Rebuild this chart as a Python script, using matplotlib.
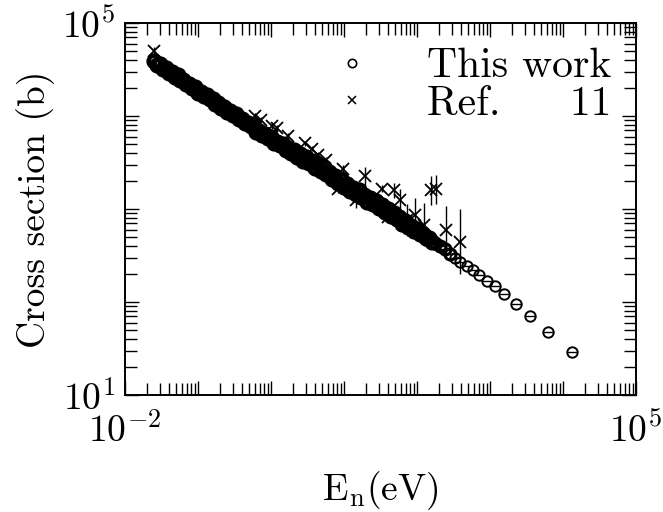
import numpy as np
from matplotlib import pyplot as plt
from matplotlib.ticker import LogLocator, NullFormatter

plt.rcParams['font.family'] = 'serif'
plt.rcParams['font.serif'] = ['cmr10']
plt.rcParams['mathtext.fontset'] = 'cm'
plt.rcParams['axes.formatter.use_mathtext'] = True

# "This work" : log10(E / eV), log10(sigma / b)
log_e_this = [-1.60, -1.56, -1.52, -1.48, -1.44, -1.40, -1.36, -1.32, -1.28, -1.24,
              -1.20, -1.16, -1.12, -1.08, -1.04, -1.00, -0.96, -0.92, -0.88, -0.84,
              -0.80, -0.76, -0.72, -0.68, -0.64, -0.60, -0.56, -0.52, -0.48, -0.44,
              -0.40, -0.36, -0.32, -0.28, -0.24, -0.20, -0.16, -0.12, -0.08, -0.04,
              0.00, 0.04, 0.08, 0.12, 0.16, 0.20, 0.24, 0.28, 0.32, 0.36,
              0.40, 0.44, 0.48, 0.52, 0.56, 0.60, 0.64, 0.68, 0.72, 0.76,
              0.80, 0.84, 0.88, 0.92, 0.96, 1.00, 1.04, 1.08, 1.12, 1.16,
              1.20, 1.24, 1.28, 1.32, 1.36, 1.40, 1.44, 1.48, 1.52, 1.56,
              1.60, 1.64, 1.68, 1.72, 1.76, 1.80, 1.84, 1.88, 1.92, 1.96,
              2.00, 2.04, 2.08, 2.12, 2.16, 2.20,
              2.25, 2.32, 2.38, 2.45, 2.52, 2.59, 2.68, 2.77, 2.85, 2.96,
              3.07, 3.19, 3.36, 3.55, 3.79, 4.12]
log_s_this = [4.59, 4.55, 4.56, 4.51, 4.52, 4.46, 4.47, 4.42, 4.44, 4.39,
              4.39, 4.34, 4.34, 4.30, 4.31, 4.25, 4.26, 4.21, 4.23, 4.18,
              4.18, 4.13, 4.14, 4.09, 4.10, 4.04, 4.05, 4.01, 4.02, 3.97,
              3.97, 3.92, 3.93, 3.89, 3.90, 3.83, 3.84, 3.80, 3.81, 3.76,
              3.77, 3.71, 3.72, 3.69, 3.70, 3.63, 3.66, 3.60, 3.63, 3.56,
              3.59, 3.52, 3.56, 3.49, 3.52, 3.44, 3.48, 3.41, 3.45, 3.38,
              3.40, 3.32, 3.35, 3.28, 3.32, 3.24, 3.27, 3.19, 3.23, 3.16,
              3.20, 3.13, 3.15, 3.08, 3.12, 3.05, 3.09, 3.01, 3.04, 2.97,
              3.00, 2.92, 2.96, 2.89, 2.91, 2.84, 2.87, 2.81, 2.82, 2.76,
              2.78, 2.73, 2.73, 2.69, 2.69, 2.65,
              2.63, 2.60, 2.57, 2.52, 2.47, 2.43, 2.39, 2.34, 2.29, 2.23,
              2.17, 2.09, 1.98, 1.85, 1.68, 1.46]
n_dense = 96  # points packed so tightly they print as a solid band

# Ref. 11 : log10(E), log10(sigma), error half-width in decades
log_e_ref = [-1.60, -0.22, -0.13, 0.01, 0.08, 0.24, 0.47, 0.56, 0.65, 0.76,
             0.99, 0.92, 1.29, 1.17, 1.52, 1.61, 1.68, 1.77, 1.86, 1.97,
             2.09, 2.19, 2.26, 2.40, 2.59]
log_s_ref = [4.70, 4.00, 3.96, 3.89, 3.87, 3.785, 3.705, 3.65, 3.58, 3.53,
             3.43, 3.21, 3.35, 3.10, 3.22, 2.91, 3.20, 3.10, 2.88, 2.935,
             2.83, 3.20, 3.21, 2.77, 2.65]
err_ref = [0.04, 0.03, 0.03, 0.03, 0.03, 0.03, 0.03, 0.03, 0.03, 0.03,
           0.04, 0.04, 0.10, 0.09, 0.04, 0.04, 0.08, 0.12, 0.17, 0.18,
           0.23, 0.16, 0.16, 0.26, 0.35]

e_this = 10.0 ** np.array(log_e_this)
s_this = 10.0 ** np.array(log_s_this)
e_ref = 10.0 ** np.array(log_e_ref)
s_ref = 10.0 ** np.array(log_s_ref)
d = np.array(err_ref)
yerr = [s_ref - s_ref * 10.0 ** -d, s_ref * 10.0 ** d - s_ref]

fig = plt.figure(figsize=(6.63, 5.12), dpi=100)
ax = fig.add_axes([0.1885, 0.2285, 0.7707, 0.7266])

ax.errorbar(e_ref, s_ref, yerr=yerr, fmt='none', ecolor='k', elinewidth=1.0, capsize=0)
ax.plot(e_this[:n_dense], s_this[:n_dense], 'o', mfc='none', mec='k', ms=8.5, mew=3.2)
ax.plot(e_this[n_dense:n_dense + 4], s_this[n_dense:n_dense + 4], 'o', mfc='none', mec='k', ms=8, mew=2.2)
ax.plot(e_this[n_dense + 4:], s_this[n_dense + 4:], 'o', mfc='none', mec='k', ms=7.5, mew=1.4)
ax.plot(e_this[n_dense:], s_this[n_dense:], '_', color='k', ms=6.5, mew=1.0)
ax.plot(e_ref, s_ref, 'x', color='k', ms=8, mew=1.3)

# legend handles
ax.plot([], [], 'o', mfc='none', mec='k', ms=6, mew=1.2, label='This work')
ax.plot([], [], 'x', color='k', ms=6, mew=1.1, label='Ref.     11')

ax.set_xscale('log')
ax.set_yscale('log')
ax.set_xlim(1e-2, 1e5)
ax.set_ylim(1e1, 1e5)

ax.set_xticks([10.0 ** k for k in range(-2, 6)])
ax.set_xticklabels(['$10^{-2}$', '', '', '', '', '', '', '$10^{5}$'])
ax.set_yticks([10.0 ** k for k in range(1, 6)])
ax.set_yticklabels(['$10^{1}$', '', '', '', '$10^{5}$'])
for axis in (ax.xaxis, ax.yaxis):
    axis.set_minor_locator(LogLocator(base=10, subs=np.arange(2, 10), numticks=20))
    axis.set_minor_formatter(NullFormatter())

ax.tick_params(which='both', direction='in', top=True, right=True, width=1.0, labelsize=27)
ax.tick_params(which='major', length=10)
ax.tick_params(which='minor', length=8.5)
ax.tick_params(axis='x', pad=12)
ax.tick_params(axis='y', pad=7)
for sp in ax.spines.values():
    sp.set_linewidth(1.4)

ax.set_xlabel(r'E$_{\rm n}$(eV)', fontsize=27)
ax.set_ylabel('Cross section (b)', fontsize=27)
ax.xaxis.set_label_coords(0.5, -0.20)
ax.yaxis.set_label_coords(-0.137, 0.5)

ax.legend(loc='upper right', frameon=False, fontsize=30, handlelength=1.4,
          handletextpad=1.1, labelspacing=0.0, borderaxespad=0.2)

fig.savefig('out.png', dpi=100)
